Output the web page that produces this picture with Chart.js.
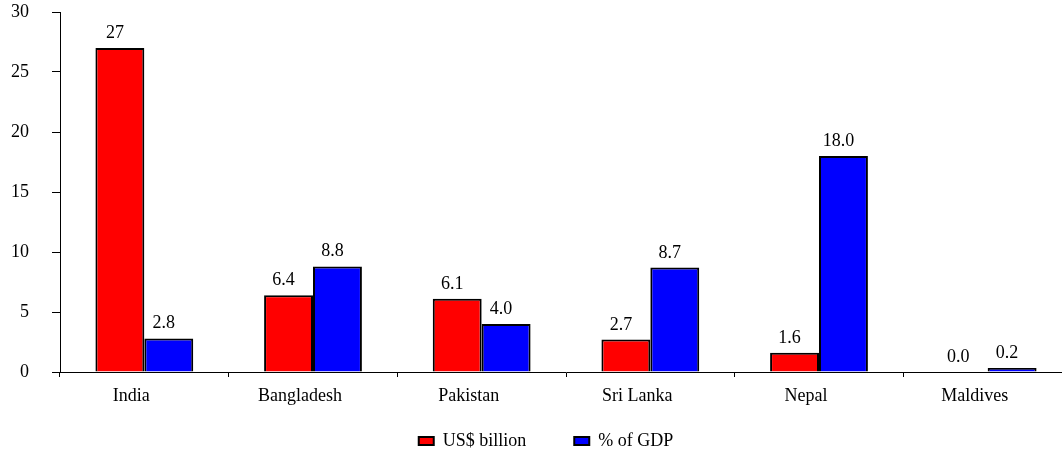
<!DOCTYPE html>
<html>
<head>
<meta charset="utf-8">
<script src="https://cdn.jsdelivr.net/npm/chart.js@4/dist/chart.umd.min.js"></script>
<style>
html, body { margin: 0; padding: 0; overflow: hidden; background: #fff; }
#wrap { width: 1092px; height: 453px; }
</style>
</head>
<body>
<div id="wrap"><canvas id="c" width="1092" height="453"></canvas></div>
<script>
const categories = ['India', 'Bangladesh', 'Pakistan', 'Sri Lanka', 'Nepal', 'Maldives'];
const usdBillion = [27, 6.4, 6.1, 2.7, 1.6, 0.0];
const pctGdp = [2.8, 8.8, 4.0, 8.7, 18.0, 0.2];
const usdLabels = ['27', '6.4', '6.1', '2.7', '1.6', '0.0'];
const gdpLabels = ['2.8', '8.8', '4.0', '8.7', '18.0', '0.2'];
const yTicks = [0, 5, 10, 15, 20, 25, 30];

const FONT = { family: "'Liberation Serif', 'Times New Roman', serif", size: 18 };

const valueLabels = {
  id: 'valueLabels',
  afterLayout(chart) {
    // let the x tick labels draw below the (narrow) x-axis box
    chart.scales.x.bottom = chart.height;
  },
  afterDatasetsDraw(chart) {
    const ctx = chart.ctx;
    ctx.save();
    ctx.font = `${FONT.size}px ${FONT.family}`;
    ctx.fillStyle = '#000';
    ctx.textAlign = 'center';
    ctx.textBaseline = 'alphabetic';
    const sets = [usdLabels, gdpLabels];
    const yScale = chart.scales.y;
    chart.data.datasets.forEach((ds, i) => {
      const meta = chart.getDatasetMeta(i);
      meta.data.forEach((bar, j) => {
        const y = yScale.getPixelForValue(ds.data[j]);
        ctx.fillText(sets[i][j], bar.x - 5, Math.min(y, bar.y) - 10);
      });
    });
    ctx.restore();
  }
};

new Chart(document.getElementById('c'), {
  type: 'bar',
  data: {
    labels: categories,
    datasets: [
      { label: 'US$ billion', data: usdBillion, backgroundColor: '#FF0000', borderColor: '#000', borderWidth: 2, borderSkipped: 'bottom' },
      { label: '% of GDP', data: pctGdp, backgroundColor: '#0000FF', borderColor: '#000', borderWidth: 2, borderSkipped: 'bottom', minBarLength: 4 }
    ]
  },
  options: {
    responsive: false,
    animation: false,
    layout: { padding: { left: 0, right: 0, top: 12, bottom: -7 } },
    datasets: { bar: { categoryPercentage: 0.58, barPercentage: 1.0 } },
    plugins: {
      legend: {
        position: 'bottom',
        labels: {
          font: FONT,
          color: '#000',
          boxWidth: 15,
          boxHeight: 8,
          padding: 48
        }
      },
      tooltip: { enabled: false }
    },
    scales: {
      x: {
        grid: { display: true, drawOnChartArea: false, drawTicks: true, tickLength: 5, color: '#000', offset: true },
        border: { display: true, color: '#000', width: 1 },
        ticks: { font: FONT, color: '#000', padding: 8, labelOffset: -13, maxRotation: 0, autoSkip: false },
        afterFit(s) { s.height = 12; s.paddingLeft = 0; s.paddingRight = 0; }
      },
      y: {
        min: 0, max: 30,
        afterBuildTicks(s) { s.ticks = yTicks.map(v => ({ value: v })); },
        grid: { display: true, drawOnChartArea: false, drawTicks: true, tickLength: 8, color: '#000' },
        border: { display: true, color: '#000', width: 1 },
        ticks: { font: FONT, color: '#000', padding: 23 },
        afterFit(s) { s.width = 60; s.paddingTop = 0; s.paddingBottom = 0; }
      },
      yR: {
        position: 'right',
        display: true,
        grid: { display: false },
        border: { display: false },
        ticks: { display: false },
        afterFit(s) { s.width = 20; s.paddingTop = 0; s.paddingBottom = 0; }
      }
    }
  },
  plugins: [valueLabels]
});
</script>
</body>
</html>
